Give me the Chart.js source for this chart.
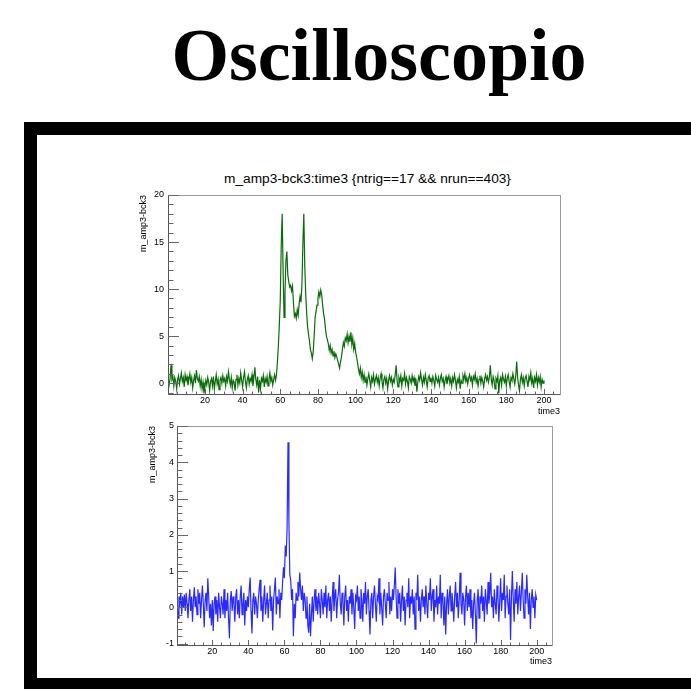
<!DOCTYPE html>
<html>
<head>
<meta charset="utf-8">
<title>Oscilloscopio</title>
<script src="https://cdn.jsdelivr.net/npm/chart.js@4.4.1/dist/chart.umd.min.js"></script>
<style>
  html, body { margin: 0; padding: 0; background: #fff; }
  body { width: 691px; height: 692px; position: relative; overflow: hidden; }
  #heading {
    position: absolute; left: 0; top: 18px; width: 758px;
    text-align: center; white-space: nowrap; color: #000;
    font: bold 74px/74px "Liberation Serif", "DejaVu Serif", serif;
  }
  #board {
    position: absolute; left: 24px; top: 122px; width: 720px; height: 567px;
    box-sizing: border-box; border: 13px solid #000; border-bottom-width: 11px;
    background: #fff;
  }
  #plotTitle {
    position: absolute; left: 0; top: 171px; width: 735px;
    text-align: center; white-space: nowrap; color: #000;
    font: 13.7px/16px "Liberation Sans", Arial, sans-serif;
  }
  canvas { position: absolute; }
  #topPad { left: 100px; top: 150px; }
  #bottomPad { left: 100px; top: 410px; }
</style>
</head>
<body>
<div id="heading">Oscilloscopio</div>
<div id="board"></div>
<div id="plotTitle">m_amp3-bck3:time3 {ntrig==17 &amp;&amp; nrun==403}</div>
<canvas id="topPad" width="480" height="280"></canvas>
<canvas id="bottomPad" width="480" height="270"></canvas>
<script>
// Sampling grid of the scope trace (ns)
const timeStart = 0.5;
const timeStep = 0.5;

// m_amp3-bck3 for ntrig==17 && nrun==403, one value per sample
const ampRaw = [
  0.3, -0.2, 0.5, 1.9, 0.4, 0.7, -0.3, 0.6, 0.2, -0.6,
  0.4, 0.8, -0.1, 0.5, 1.1, 0.2, 0.6, -0.4, 0.9, 0.3,
  0.7, -0.2, 0.4, 1.0, 0.1, 0.6, -0.5, 0.3, 0.8, 0.0,
  1.4, 0.5, 0.2, 0.7, -0.3, 0.4, -0.6, 0.1, -1.1, -0.4,
  0.3, -0.2, 0.6, 0.1, -0.8, 0.2, 0.5, -0.3, 0.7, -0.6,
  0.2, 0.9, -0.1, 0.4, -0.7, 0.3, 0.6, 0.0, 0.8, 0.2,
  0.5, -0.3, 0.7, 0.2, 1.2, 0.4, -0.2, 0.6, -0.5, 0.3,
  0.1, -0.8, 0.4, 0.9, -0.2, 0.5, 0.0, 1.1, 0.3, -0.4,
  0.6, 1.2, 0.2, -0.5, 0.4, 0.8, -0.1, 0.5, 0.2, 0.9,
  -0.3, 0.6, 1.7, 0.4, -0.2, 0.7, -1.0, 0.3, -0.6, 0.5,
  0.2, 0.8, -0.4, 0.5, 0.1, 0.7, -0.3, 0.4, 1.1, 0.2,
  0.6, -0.2, 0.4, 0.9, 0.3, 0.9, 2.3, 4.0, 6.2, 8.8,
  14.5, 18.0, 12.0, 7.0, 9.5, 13.0, 14.0, 11.5, 10.8, 10.2,
  10.4, 9.8, 10.3, 8.6, 7.1, 7.4, 6.9, 7.8, 7.2, 8.4,
  9.2, 8.6, 10.5, 14.8, 18.0, 12.5, 9.5, 7.5, 6.0, 5.2,
  4.5, 3.6, 3.2, 2.6, 3.4, 5.0, 7.0, 7.6, 8.3, 9.0,
  9.7, 9.2, 9.9, 9.4, 8.3, 7.4, 6.8, 5.8, 5.0, 4.6,
  4.2, 3.5, 4.0, 3.2, 3.6, 2.9, 3.4, 2.7, 3.1, 2.8,
  2.4, 2.0, 1.6, 2.3, 2.8, 3.6, 4.3, 3.9, 4.8, 4.5,
  5.2, 4.3, 5.0, 4.4, 5.4, 4.1, 4.8, 3.6, 4.2, 3.3,
  2.8, 2.2, 1.5, 1.0, 1.6, 0.6, 1.2, 0.3, 0.9, 0.1,
  0.7, -0.2, 0.5, 1.0, 0.3, -0.4, 0.6, 0.2, 0.9, -0.1,
  0.4, 0.8, 0.1, 0.6, -0.3, 0.5, 1.0, 0.2, -0.5, 0.4,
  0.7, 0.0, 0.5, -0.6, 0.3, 0.8, 0.2, 0.6, -0.2, 0.4,
  0.1, 0.9, 1.9, 0.3, -0.4, 0.6, 0.2, 0.8, -0.3, 0.5,
  0.3, 1.0, -0.1, 0.6, 0.2, -0.5, 0.7, 0.4, 0.0, 0.8,
  0.2, 0.6, -0.3, 0.5, -0.9, 0.1, 0.7, 0.3, 1.1, 0.4,
  -0.2, 0.6, 0.1, 0.9, 0.3, -0.4, 0.5, 0.8, 0.2, 0.6,
  0.0, 0.7, 0.3, -0.3, 0.8, 0.4, 0.1, 0.6, -0.2, 0.5,
  0.9, 0.2, 0.5, -0.4, 0.3, 0.7, -0.1, 0.4, 0.8, 0.0,
  0.5, -0.3, 0.6, 0.2, 0.9, 0.3, -0.5, 0.4, 0.1, 0.7,
  -0.6, 0.3, 0.0, 0.8, 0.4, 1.0, 0.2, 0.6, -0.1, 0.5,
  0.9, 0.3, 0.6, -0.2, 0.7, 0.4, 1.0, 0.1, 0.5, -0.3,
  0.4, 0.8, 0.0, 0.6, 0.2, -0.4, 0.5, 0.9, 0.3, 0.7,
  0.1, 0.6, 1.9, 0.4, -0.2, 0.7, 0.3, -0.6, 0.5, 0.2,
  0.8, -1.1, 0.3, 0.6, -0.2, 0.9, 0.4, 0.1, 0.7, -0.3,
  0.5, 0.9, 0.2, -0.4, 0.6, 0.3, 1.0, 0.4, -0.1, 0.8,
  2.3, 0.6, -0.2, -0.8, 0.4, 0.9, 0.1, 0.6, -0.3, 0.5,
  0.8, 0.2, -0.4, 0.7, 0.3, 1.1, 0.0, 0.5, -0.5, 0.6,
  0.2, 0.9, -0.2, 0.6, 0.1, 0.7, -0.4, 0.4, 0.0, 0.3
];

// Same channel after filtering, one value per sample
const ampFiltered = [
  0.2, -0.3, 0.3, 0.1, 0.4, -0.2, 0.3, 0.0, 0.35, -0.1,
  0.4, 0.1, -0.3, 0.2, 0.5, -0.1, 0.3, -0.4, 0.2, 0.55,
  0.0, 0.3, -0.2, 0.5, 0.1, 0.4, -0.3, 0.2, 0.6, 0.1,
  -0.55, 0.2, 0.4, -0.1, 0.8, 0.3, -0.3, 0.1, -0.5, 0.2,
  -0.65, 0.1, 0.3, -0.2, 0.2, -0.4, 0.4, 0.0, -0.3, 0.3,
  0.1, -0.2, 0.5, -0.3, 0.2, -0.1, 0.4, -0.3, -0.85, 0.2,
  0.45, -0.1, 0.3, 0.1, -0.4, 0.3, 0.5, -0.2, 0.2, -0.3,
  0.3, 0.6, -0.2, 0.1, 0.4, -0.5, 0.2, -0.1, 0.3, 0.0,
  0.5, 0.82, -0.1, -0.72, 0.2, 0.4, -0.2, 0.3, 0.1, -0.3,
  0.2, 0.5, 0.76, -0.1, 0.3, -0.4, 0.2, 0.6, -0.2, 0.1,
  0.4, -0.3, 0.2, 0.6, -0.1, 0.3, -0.64, 0.2, 0.5, 0.82,
  -0.2, 0.3, 0.1, 0.5, -0.3, 0.4, 0.2, 0.7, 1.1, 0.8,
  1.7, 1.4, 2.2, 4.55, 2.4, 0.9, 0.75, 0.2, 0.5, -0.8,
  0.1, -0.3, 0.4, 0.2, 0.7, 0.3, 0.96, 0.5, 0.2, 0.6,
  -0.1, 0.4, 0.2, -0.3, 0.3, -0.5, -0.7, 0.1, -0.8, -0.2,
  0.3, -0.4, 0.2, 0.5, -0.1, 0.3, -0.2, 0.4, 0.1, -0.3,
  0.5, 0.2, -0.2, 0.4, 0.0, 0.6, -0.3, 0.2, 0.4, -0.1,
  0.3, -0.4, 0.2, 0.7, -0.1, 0.3, 0.5, -0.3, 0.2, 0.4,
  0.9, 0.1, -0.2, 0.4, 0.2, -0.5, 0.3, 0.6, -0.1, 0.2,
  -0.4, 0.3, 0.1, 0.5, -0.2, 0.4, 0.0, -0.6, 0.3, 0.2,
  0.6, -0.1, 0.3, -0.3, 0.5, 0.2, -0.4, 0.4, 0.1, 0.7,
  -0.2, 0.3, 0.5, -0.1, -0.75, 0.2, 0.4, -0.3, 0.3, 0.6,
  0.1, -0.4, 0.3, 0.2, 0.8, -0.2, 0.4, 0.0, -0.5, 0.3,
  0.5, 0.1, -0.3, 0.4, 0.2, 0.7, -0.2, 0.3, -0.1, 0.5,
  0.2, 0.6, 1.1, 0.3, -0.3, 0.5, 0.1, 0.4, -0.4, 0.2,
  0.6, -0.1, 0.3, -0.5, 0.2, 0.4, 0.0, 0.8, -0.3, 0.3,
  0.1, 0.5, -0.2, 0.3, -0.6, 0.4, 0.2, 0.9, -0.1, 0.3,
  -0.4, 0.2, 0.5, 0.0, 0.3, -0.2, 0.6, 0.1, -0.3, 0.4,
  0.2, 0.8, -0.1, 0.3, 0.5, -0.4, 0.2, 0.0, 0.6, -0.2,
  0.3, 0.1, 0.9, -0.3, 0.4, 0.2, -0.5, 0.3, -0.75, 0.1,
  0.5, -0.2, 0.3, 0.6, -0.1, 0.4, 0.1, -0.4, 0.3, 0.7,
  0.0, 0.4, -0.3, 0.2, 0.95, 0.1, -0.2, 0.4, 0.2, -0.5,
  0.3, 0.6, -0.1, 0.4, 0.0, 0.5, -0.3, 0.2, -0.6, 0.1,
  0.4, -0.2, -1.0, 0.2, 0.5, -0.3, 0.3, 0.1, 0.6, -0.1,
  0.3, -0.4, 0.5, 0.2, -0.2, 0.7, 0.1, 0.4, 0.95, 0.0,
  0.3, -0.3, 0.5, 0.1, -0.2, 0.6, 0.3, -0.4, 0.2, 0.8,
  -0.1, 0.4, 0.2, 0.9, -0.3, 0.3, 0.6, 0.1, -0.2, 0.5,
  -0.9, 0.3, 1.0, 0.2, -0.4, 0.5, 0.1, 0.7, -0.2, 0.3,
  0.6, -0.1, 0.4, 0.95, 0.2, -0.3, 0.5, 0.1, 0.9, 0.3,
  -0.2, 0.4, -0.6, 0.2, 0.5, 0.0, 0.3, -0.3, 0.35, 0.2
];

// Axis ranges and tick divisions
const timeRange = [0.4, 208.5];
const rawRange = [-1.15, 20];
const filteredRange = [-1.04, 5];
const timeDiv = { major: 20, minor: 5 };
const rawDiv = { major: 5, minor: 1 };
const filteredDiv = { major: 1, minor: 0.2 };

const sansFont = '"Liberation Sans", Arial, Helvetica, sans-serif';
Chart.defaults.font.family = sansFont;
Chart.defaults.color = '#000';

const toPoints = arr => arr.map((v, i) => ({ x: timeStart + i * timeStep, y: v }));
const isMultiple = (v, step) => Math.abs(v / step - Math.round(v / step)) < 1e-6;

// Frame box plus inward major/minor tick marks, drawn from the chart's own scales
const frameTicks = {
  id: 'frameTicks',
  afterDraw(chart, args, opts) {
    const { ctx, chartArea: a, scales: { x, y } } = chart;
    ctx.save();
    ctx.lineWidth = 1;
    ctx.strokeStyle = '#9a9a9a';
    ctx.strokeRect(Math.round(a.left) + 0.5, Math.round(a.top) + 0.5,
                   Math.round(a.right - a.left), Math.round(a.bottom - a.top));
    ctx.strokeStyle = '#555';
    ctx.beginPath();
    ctx.moveTo(Math.round(a.left) + 0.5, a.top);
    ctx.lineTo(Math.round(a.left) + 0.5, a.bottom + 0.5);
    ctx.lineTo(a.right, Math.round(a.bottom) + 0.5);
    ctx.stroke();

    ctx.strokeStyle = '#666';
    ctx.beginPath();
    const yd = opts.yDiv;
    for (let k = Math.ceil(y.min / yd.minor - 1e-6); k * yd.minor <= y.max + 1e-6; k++) {
      const v = k * yd.minor;
      const py = Math.round(y.getPixelForValue(v)) + 0.5;
      const len = isMultiple(v, yd.major) ? opts.yMajorLen : opts.yMajorLen / 2;
      ctx.moveTo(a.left, py);
      ctx.lineTo(a.left + len, py);
    }
    const xd = opts.xDiv;
    for (let k = Math.ceil(x.min / xd.minor - 1e-6); k * xd.minor <= x.max + 1e-6; k++) {
      const v = k * xd.minor;
      const px = Math.round(x.getPixelForValue(v)) + 0.5;
      const len = isMultiple(v, xd.major) ? opts.xMajorLen : opts.xMajorLen / 2;
      ctx.moveTo(px, a.bottom);
      ctx.lineTo(px, a.bottom - len);
    }
    ctx.stroke();
    ctx.restore();
  }
};

function buildPad(canvasId, values, color, yRange, yDiv, pad, yWidth, xHeight, yPad) {
  return new Chart(document.getElementById(canvasId), {
    type: 'line',
    data: {
      datasets: [{
        data: toPoints(values),
        borderColor: color,
        borderWidth: 1.2,
        pointRadius: 0,
        tension: 0,
        fill: false
      }]
    },
    options: {
      responsive: false,
      animation: false,
      devicePixelRatio: 1,
      events: [],
      layout: { padding: pad },
      plugins: {
        legend: { display: false },
        tooltip: { enabled: false },
        frameTicks: { xDiv: timeDiv, yDiv: yDiv, yMajorLen: 11, xMajorLen: 5 }
      },
      scales: {
        x: {
          type: 'linear',
          min: timeRange[0],
          max: timeRange[1],
          afterFit: s => { s.height = xHeight; },
          grid: { display: false, drawTicks: false },
          border: { display: false },
          ticks: {
            stepSize: timeDiv.major,
            includeBounds: false,
            autoSkip: false,
            maxRotation: 0,
            padding: 1,
            font: { size: 9 },
            callback: v => isMultiple(v, timeDiv.major) ? String(Math.round(v)) : ''
          },
          title: {
            display: true, text: 'time3', align: 'end',
            padding: 0, font: { size: 9 }
          }
        },
        y: {
          type: 'linear',
          min: yRange[0],
          max: yRange[1],
          afterFit: s => { s.width = yWidth; },
          grid: { display: false, drawTicks: false },
          border: { display: false },
          ticks: {
            stepSize: yDiv.major,
            includeBounds: false,
            autoSkip: false,
            padding: yPad,
            font: { size: 9 },
            callback: v => isMultiple(v, yDiv.major) ? String(Math.round(v)) : ''
          },
          title: {
            display: true, text: 'm_amp3-bck3', align: 'end',
            padding: 0, font: { size: 9 }
          }
        }
      }
    },
    plugins: [frameTicks]
  });
}

buildPad('topPad', ampRaw, '#0a6b0a', rawRange, rawDiv,
         { left: 38, top: 45, right: 20, bottom: 13 }, 30, 23, 4);
buildPad('bottomPad', ampFiltered, '#2a2aff', filteredRange, filteredDiv,
         { left: 47, top: 16, right: 28, bottom: 13 }, 30, 22, 3);
</script>
</body>
</html>
